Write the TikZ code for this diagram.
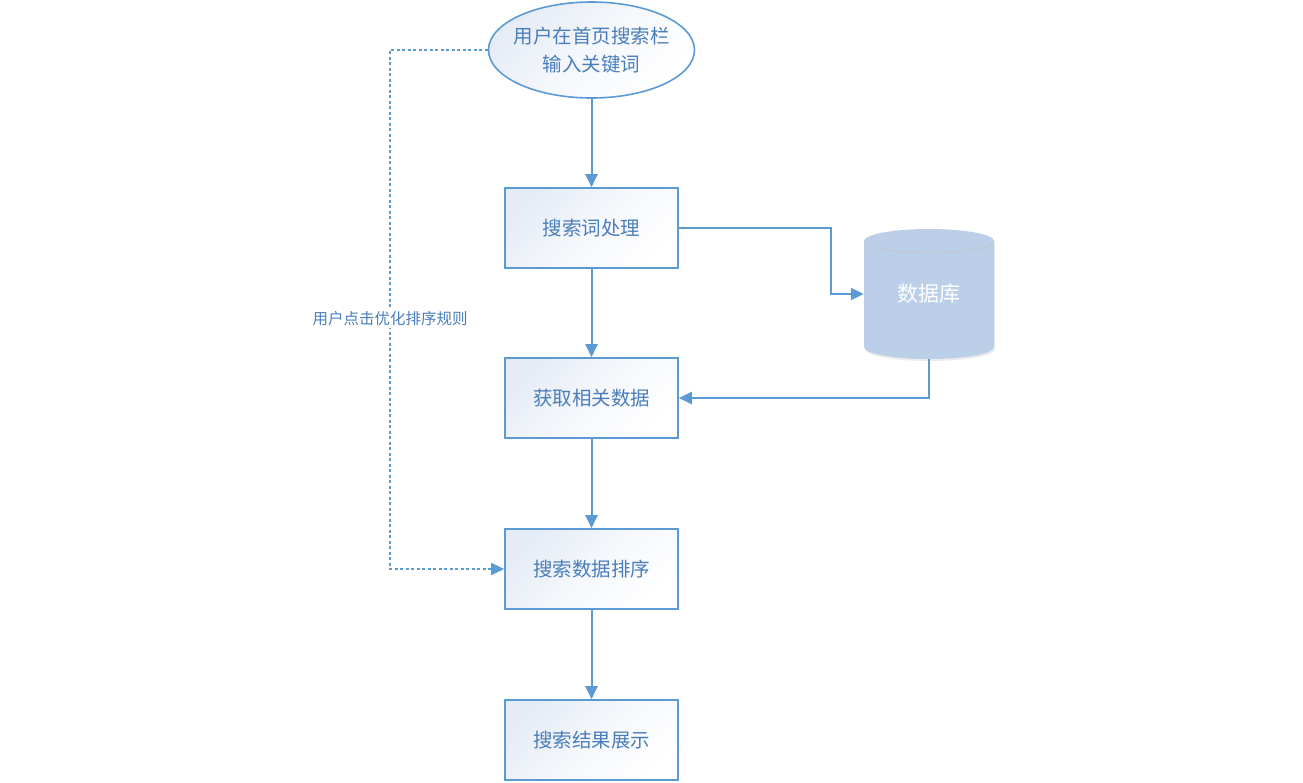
\documentclass[tikz,border=0pt]{standalone}
\usepackage{fontspec}
\setmainfont{Noto Sans CJK SC}
\usetikzlibrary{arrows.meta,shapes.geometric}
\definecolor{lineblue}{HTML}{5B9BD5}
\definecolor{txtblue}{HTML}{4A7EBB}
\definecolor{gradblue}{HTML}{E6ECF6}
\definecolor{dbfill}{HTML}{BCCFE8}
\definecolor{dbedge}{HTML}{C4C8CE}
\tikzset{
  flowbox/.style={draw=lineblue, line width=1.6pt, minimum width=173pt, minimum height=80pt, inner sep=0pt,
    top color=gradblue, bottom color=white, middle color=white!60!gradblue, shading angle=45, text=txtblue, font=\fontsize{19.5pt}{23pt}\selectfont},
  conn/.style={draw=lineblue, line width=2pt, -{Triangle[length=13pt,width=12pt]}},
  dconn/.style={conn, dash pattern=on 3pt off 2.5pt, line width=1.6pt},
}
\begin{document}
\begin{tikzpicture}[x=1pt,y=-1pt]
\useasboundingbox (0,0) rectangle (1303,782);
\node[ellipse, draw=lineblue, line width=1.6pt, minimum width=206pt, minimum height=96pt, inner xsep=-6pt, inner ysep=0pt,
  top color=gradblue, bottom color=white, middle color=white!60!gradblue, shading angle=45, text=txtblue, align=center,
  font=\fontsize{19.5pt}{28pt}\selectfont] (start) at (591.5,50) {用户在首页搜索栏\\输入关键词};
\node[flowbox] (proc) at (591.5,228) {搜索词处理};
\node[flowbox] (fetch) at (591.5,398) {获取相关数据};
\node[flowbox] (sort) at (591.5,569) {搜索数据排序};
\node[flowbox] (show) at (591.5,740) {搜索结果展示};
% database cylinder
\node[minimum width=130pt, minimum height=130pt, inner sep=0pt] (db) at (929,294) {};
\fill[black!8] (865,244) -- (865,349) arc[start angle=180, end angle=0, x radius=65, y radius=12] -- (995,244) -- cycle;
\fill[dbfill] (864,241) -- (864,347) arc[start angle=180, end angle=0, x radius=65, y radius=12] -- (994,241)
  arc[start angle=0, end angle=-180, x radius=65, y radius=12] -- cycle;
\draw[dbedge, line width=1pt] (994,241) arc[start angle=0, end angle=180, x radius=65, y radius=12];
\node[text=white, font=\fontsize{21pt}{24pt}\selectfont] at (929,294) {数据库};
% connectors
\draw[conn] (start) -- (proc);
\draw[conn] (proc) -- (fetch);
\draw[conn] (fetch) -- (sort);
\draw[conn] (sort) -- (show);
\draw[conn] (proc.east) -- (831,228) -- (831,294) -- (db.west);
\draw[conn] (db.south) -- (929,398) -- (fetch.east);
\draw[dconn] (start.west) -- (390,50) -- (390,569) -- (sort.west);
\node[fill=white, text=txtblue, inner sep=2pt, font=\fontsize{15.5pt}{18pt}\selectfont] (lbl) at (390,319) {用户点击优化排序规则};
\end{tikzpicture}
\end{document}
